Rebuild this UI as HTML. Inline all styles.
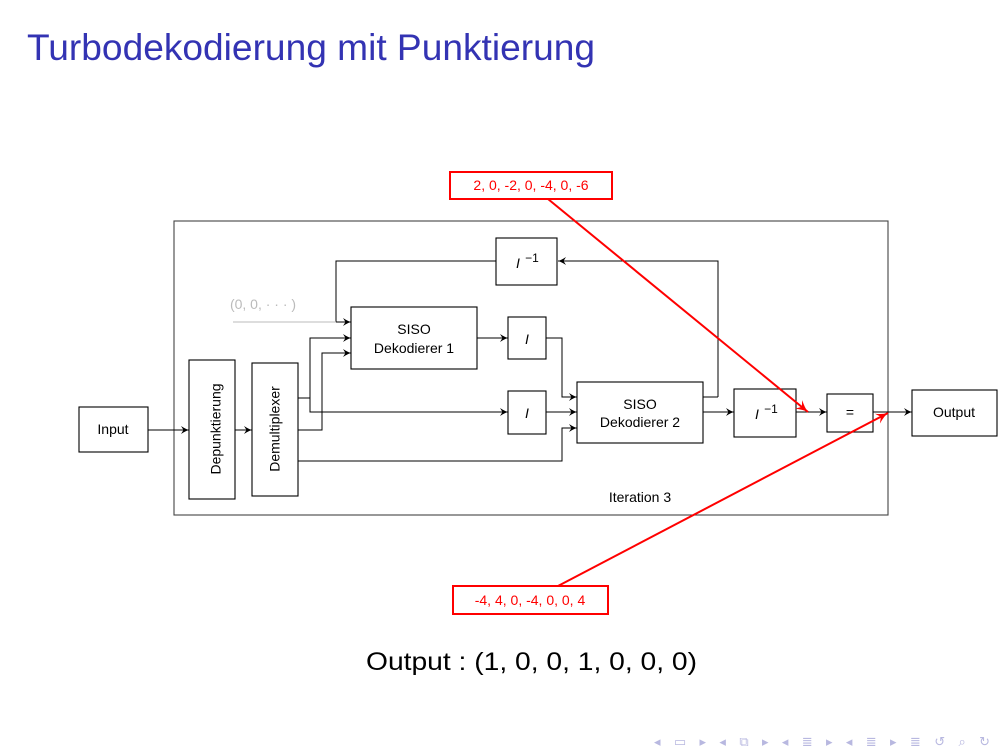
<!DOCTYPE html>
<html><head><meta charset="utf-8"><style>
html,body{margin:0;padding:0;background:#fff;}
svg{display:block;}
text{font-family:"Liberation Sans","DejaVu Sans",sans-serif;}
</style></head><body>
<svg width="1008" height="756" viewBox="0 0 1008 756" xmlns="http://www.w3.org/2000/svg">
<defs>
<marker id="a" markerWidth="12" markerHeight="12" refX="9" refY="6" orient="auto" markerUnits="userSpaceOnUse">
<path d="M1,2 Q6,5.3 9,6 Q6,6.7 1,10 L3.5,6 Z" fill="#000"/></marker>
<marker id="r" markerWidth="16" markerHeight="16" refX="13" refY="8" orient="auto" markerUnits="userSpaceOnUse">
<path d="M1,2.5 Q8,7 13,8 Q8,9 1,13.5 L5,8 Z" fill="#f00"/></marker>
</defs>
<text x="27" y="60" font-size="37" fill="#3333b3" textLength="568" lengthAdjust="spacingAndGlyphs">Turbodekodierung mit Punktierung</text>

<g fill="none" stroke="#000" stroke-width="1.1">
<rect x="174" y="221" width="714" height="294" stroke="#444"/>
<rect x="79" y="407" width="69" height="45"/>
<rect x="189" y="360" width="46" height="139"/>
<rect x="252" y="363" width="46" height="133"/>
<rect x="351" y="307" width="126" height="62"/>
<rect x="496" y="238" width="61" height="47"/>
<rect x="508" y="317" width="38" height="42"/>
<rect x="508" y="391" width="38" height="43"/>
<rect x="577" y="382" width="126" height="61"/>
<rect x="734" y="389" width="62" height="48"/>
<rect x="827" y="394" width="46" height="38"/>
<rect x="912" y="390" width="85" height="46"/>
</g>
<g fill="none" stroke="#000" stroke-width="1" marker-end="url(#a)">
<path d="M148 430 H189"/>
<path d="M235 430 H252"/>
<path d="M496 261 H336 V322 H351"/>
<path d="M718 397 V261 H558" />
<path d="M703 397 H718" marker-end="none"/>
<path d="M298 398 H310 V338 H351"/>
<path d="M310 398 V412 H508"/>
<path d="M298 430 H322 V353 H351"/>
<path d="M298 461 H562 V428 H577"/>
<path d="M477 338 H508"/>
<path d="M546 338 H562 V397 H577"/>
<path d="M546 412 H577"/>
<path d="M703 412 H734"/>
<path d="M796 412 H827"/>
<path d="M873 412 H912"/>
</g>
<path d="M233 322 H336" stroke="#bbb" stroke-width="1"/>
<text x="263" y="309" font-size="14" fill="#bbb" text-anchor="middle">(0, 0, · · · )</text>

<g font-size="14" fill="#000" text-anchor="middle">
<text x="113" y="434">Input</text>
<text x="217" y="429" transform="rotate(-90 217 429)" dominant-baseline="middle">Depunktierung</text>
<text x="276" y="429" transform="rotate(-90 276 429)" dominant-baseline="middle">Demultiplexer</text>
<text x="414" y="334">SISO</text>
<text x="414" y="353">Dekodierer 1</text>
<text x="640" y="409">SISO</text>
<text x="640" y="427">Dekodierer 2</text>
<text x="954" y="417">Output</text>
<text x="850" y="417">=</text>
<text x="640" y="502">Iteration 3</text>
<text x="527" y="344" font-style="italic">I</text>
<text x="527" y="418" font-style="italic">I</text>
<text x="518" y="268" font-style="italic">I</text><text x="532" y="262" font-size="12">−1</text>
<text x="757" y="419" font-style="italic">I</text><text x="771" y="413" font-size="12">−1</text>
</g>

<g stroke="#f00" stroke-width="2" fill="none">
<rect x="450" y="172" width="162" height="27" fill="#fff"/>
<rect x="453" y="586" width="155" height="28" fill="#fff"/>
<path d="M548 199 L808 412" marker-end="url(#r)"/>
<path d="M558 586 L888 413" marker-end="url(#r)"/>
</g>
<text x="531" y="190" font-size="14" fill="#f00" text-anchor="middle">2, 0, -2, 0, -4, 0, -6</text>
<text x="530" y="605" font-size="14" fill="#f00" text-anchor="middle">-4, 4, 0, -4, 0, 0, 4</text>

<text x="366" y="670" font-size="25" fill="#000" textLength="331" lengthAdjust="spacingAndGlyphs">Output : (1, 0, 0, 1, 0, 0, 0)</text>

<g fill="#b8b8e0" font-size="13">
<text x="654" y="746" textLength="336" lengthAdjust="spacing">◂ ▭ ▸ ◂ ⧉ ▸ ◂ ≣ ▸ ◂ ≣ ▸ ≣ ↺ ⌕ ↻</text>
</g>
</svg>
</body></html>
